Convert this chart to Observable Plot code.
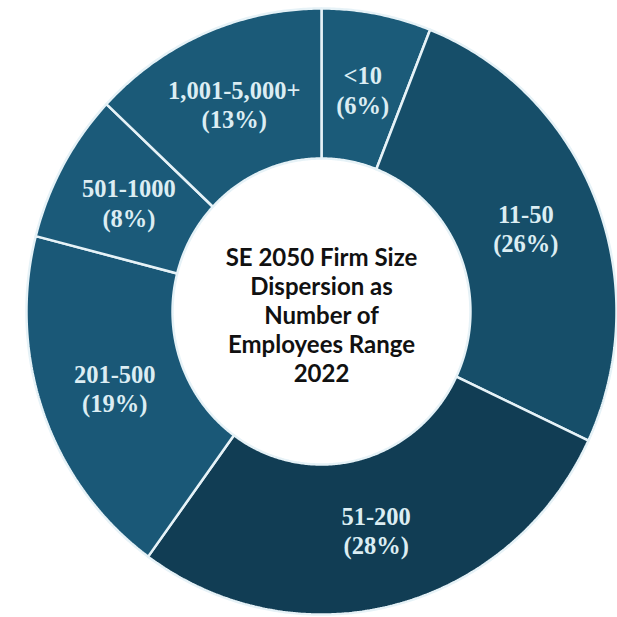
<!DOCTYPE html>
<html><head><meta charset="utf-8">
<script src="https://cdn.jsdelivr.net/npm/d3@7"></script>
<script src="https://cdn.jsdelivr.net/npm/@observablehq/plot@0.6"></script>
<style>html,body{margin:0;padding:0;background:#fff;} #chart{width:617px;height:617px;}</style>
</head><body><div id="chart"></div>
<script>
// Data (clockwise from 12 o'clock)
const categories = ["<10", "11-50", "51-200", "201-500", "501-1000", "1,001-5,000+"];
const shares = [6, 26, 28, 19, 8, 13];
const sliceColors = ["#1b5b79", "#164e69", "#113d54", "#1a5877", "#1b5a79", "#1b5a78"];
const centerTitle = ["SE 2050 Firm Size", "Dispersion as", "Number of", "Employees Range", "2022"];

const innerRatio = 0.505;
const labelRadius = 0.745;
const total = d3.sum(shares);
let acc = 0;
const slices = categories.map((name, i) => {
  const a0 = acc / total * 2 * Math.PI;
  acc += shares[i];
  const a1 = acc / total * 2 * Math.PI;
  return {name, value: shares[i], a0, a1};
});

const pts = [];
for (const s of slices) {
  const n = Math.max(8, Math.ceil((s.a1 - s.a0) / (Math.PI / 360)));
  const ring = [];
  for (let k = 0; k <= n; k++) {
    const a = s.a0 + (s.a1 - s.a0) * k / n;
    ring.push({name: s.name, x: Math.sin(a), y: Math.cos(a)});
  }
  for (let k = n; k >= 0; k--) {
    const a = s.a0 + (s.a1 - s.a0) * k / n;
    ring.push({name: s.name, x: innerRatio * Math.sin(a), y: innerRatio * Math.cos(a)});
  }
  ring.push({...ring[0]});
  pts.push(...ring);
}

const labels = slices.map(s => {
  const a = (s.a0 + s.a1) / 2;
  return {x: labelRadius * Math.sin(a), y: labelRadius * Math.cos(a), text: `${s.name}\n(${s.value}%)`};
});

const chart = Plot.plot({
  width: 617,
  height: 617,
  margin: 0,
  style: {background: "#fff"},
  x: {domain: [-1, 1], range: [26, 616], axis: null},
  y: {domain: [-1, 1], range: [614, 8], axis: null},
  color: {domain: categories, range: sliceColors},
  marks: [
    Plot.line(pts, {x: "x", y: "y", z: "name", fill: "name", stroke: "#e6f2f7", strokeWidth: 2.5, curve: "linear", strokeLinejoin: "miter"}),
    Plot.text(labels, {x: "x", y: "y", text: "text", fill: "#dcedf3", fontSize: 24.5, fontWeight: 700,
      fontFamily: "'Liberation Serif', 'Times New Roman', serif", lineHeight: 1.2}),
    Plot.text([{x: 0, y: 0, t: centerTitle.join("\n")}], {x: "x", y: "y", text: "t", fill: "#111",
      fontSize: 24, fontWeight: 700, fontFamily: "Lato, sans-serif", lineHeight: 1.21, dy: 3})
  ]
});
document.getElementById("chart").appendChild(chart);
</script>
</body></html>
